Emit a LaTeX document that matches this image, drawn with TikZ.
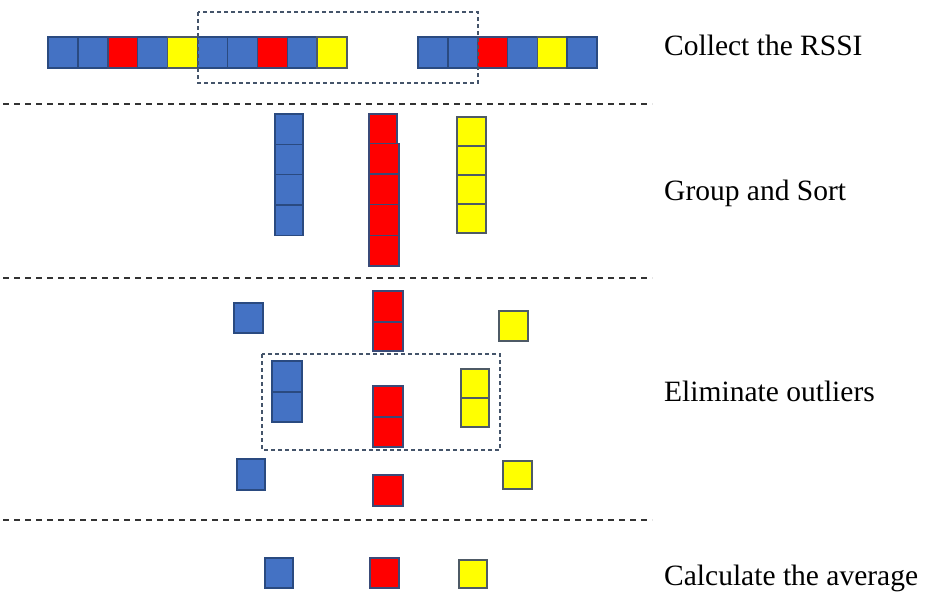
\documentclass[tikz,border=0pt]{standalone}
\usepackage{fontspec}
\setmainfont{Liberation Serif}
\usepackage{tikz}

\definecolor{rssiblue}{HTML}{4472C4}
\definecolor{rssired}{HTML}{FF0000}
\definecolor{rssiyellow}{HTML}{FFFF00}
\definecolor{edgeblue}{HTML}{2A4A80}
\definecolor{edgered}{HTML}{3A4A78}
\definecolor{edgegrey}{HTML}{4E5A66}
\definecolor{boxline}{HTML}{44546A}

\tikzset{
  bblk/.style={fill=rssiblue,draw=edgeblue,line width=1.4pt},
  rblk/.style={fill=rssired,draw=edgered,line width=1.4pt},
  yblk/.style={fill=rssiyellow,draw=edgegrey,line width=1.4pt},
  window/.style={draw=boxline,line width=1.1pt,dash pattern=on 4pt off 3pt},
  separator/.style={draw=black!80,line width=1.6pt,dash pattern=on 6pt off 5pt},
  steplabel/.style={anchor=base west,inner sep=0pt,font=\fontsize{29.5}{35}\selectfont}
}

\begin{document}
\begin{tikzpicture}[x=1pt,y=-1pt]
  \useasboundingbox (0,0) rectangle (935,592);

  % Collect the RSSI
  \foreach \c [count=\i from 0] in {bblk,bblk,rblk,bblk,yblk,bblk,bblk,rblk,bblk,yblk} {
    \draw[\c] (48+\i*29.9,37) rectangle ++(29.9,31);
  }
  \foreach \c [count=\i from 0] in {bblk,bblk,rblk,bblk,yblk,bblk} {
    \draw[\c] (418+\i*29.8,37) rectangle ++(29.8,31);
  }
  \draw[window] (198,12) rectangle (478,83);
  \node[steplabel] (collect) at (664,55) {Collect the RSSI};

  \draw[separator] (3,104) -- (652,104);

  % Group and Sort
  \foreach \i in {0,...,3} {
    \draw[bblk] (275,114+\i*30.3) rectangle ++(28,30.3);
  }
  \draw[rblk] (369,114) rectangle (397,143.5);
  \foreach \i in {0,...,3} {
    \draw[rblk] (369,143.5+\i*30.6) rectangle ++(30,30.6);
  }
  \foreach \i in {0,...,3} {
    \draw[yblk] (457,117+\i*29) rectangle ++(29,29);
  }
  \node[steplabel] (group) at (664,200) {Group and Sort};

  \draw[separator] (3,278) -- (652,278);

  % Eliminate outliers
  \draw[bblk] (234,303) rectangle (263,333);
  \draw[rblk] (373,291) rectangle (403,322);
  \draw[rblk] (373,322) rectangle (403,351);
  \draw[yblk] (499,311) rectangle (528,341);

  \draw[window] (262,354) rectangle (500,450);
  \draw[bblk] (272,361) rectangle (302,392);
  \draw[bblk] (272,392) rectangle (302,422);
  \draw[rblk] (373,386) rectangle (403,417);
  \draw[rblk] (373,417) rectangle (403,447);
  \draw[yblk] (461,369) rectangle (489,398);
  \draw[yblk] (461,398) rectangle (489,427);

  \draw[bblk] (237,459) rectangle (265,490);
  \draw[rblk] (373,475) rectangle (403,506);
  \draw[yblk] (503,461) rectangle (532,489);
  \node[steplabel] (elim) at (664,401) {Eliminate outliers};

  \draw[separator] (3,520) -- (652,520);

  % Calculate the average
  \draw[bblk] (265,558) rectangle (293,588);
  \draw[rblk] (370,558) rectangle (399,588);
  \draw[yblk] (459,560) rectangle (487,588);
  \node[steplabel] (avg) at (664,585) {Calculate the average};

\end{tikzpicture}
\end{document}
